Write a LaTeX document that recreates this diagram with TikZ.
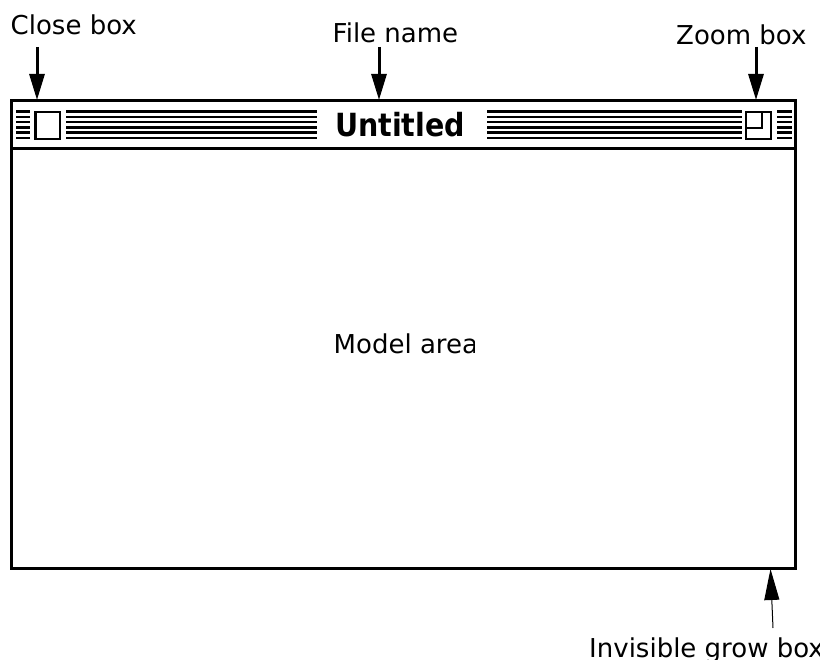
\documentclass[tikz,border=0pt]{standalone}
\usepackage{fontspec}
\setmainfont{DejaVu Sans}
\usetikzlibrary{arrows.meta}
\definecolor{macink}{HTML}{000000}

\begin{document}
\begin{tikzpicture}[
  x=1pt,
  y=-1pt,
  line join=miter,
  frame/.style={draw=macink,line width=3pt},
  stripe/.style={draw=macink,line width=2.5pt},
  ctrlbox/.style={draw=macink,line width=2.5pt,fill=white},
  callout/.style={inner sep=0pt,anchor=base west,font=\fontsize{26}{30}\selectfont},
  pointer/.style={draw=macink,line width=3pt,-{Triangle[length=26pt,width=15pt]}},
  growpointer/.style={draw=macink,line width=1pt,-{Triangle[length=31pt,width=15pt]}}
]
  \useasboundingbox (0,0) rectangle (820,660);
  \clip (0,0) rectangle (820,660);

  % Window outline and title bar separator.
  \draw[frame] (11,101) rectangle (795,568);
  \draw[frame] (11,149) -- (795,149);

  % Title bar stripes, broken around the boxes and the file name.
  \foreach \k in {0,...,5} {
    \pgfmathsetmacro{\ys}{111.5+5.3*\k}
    \draw[stripe] (16,\ys) -- (30,\ys);
    \draw[stripe] (66,\ys) -- (317,\ys);
    \draw[stripe] (487,\ys) -- (742,\ys);
    \draw[stripe] (777,\ys) -- (792,\ys);
  }

  % Close box.
  \draw[ctrlbox] (35.5,112) rectangle (60,139);

  % Zoom box with its inner square.
  \draw[ctrlbox] (746.2,112) rectangle (770.8,139);
  \draw[draw=macink,line width=2.5pt] (762,112) -- (762,128) -- (746.2,128);

  % File name in the title bar.
  \node[inner sep=0pt,anchor=base,font=\bfseries\fontsize{28.5}{30}\selectfont] (title) at (400,137)
    {\scalebox{1}[1.12]{Untitled}};

  % Text inside the window, cut off at its box.
  \begin{scope}
    \clip (300,320) rectangle (474.5,370);
    \node[callout] (model) at (333.5,354) {Model area};
  \end{scope}

  % Labels above the window.
  \node[callout] (closelbl) at (10.5,35) {Close box};
  \node[callout] (filelbl) at (332.5,43) {File name};
  \node[callout] (zoomlbl) at (676,45) {Zoom box};

  % Arrow ends.
  \coordinate (closetop) at (37,47);
  \coordinate (closetip) at (37,100);
  \coordinate (filetop) at (379,47);
  \coordinate (filetip) at (379,100);
  \coordinate (zoomtop) at (756,47);
  \coordinate (zoomtip) at (756,100);

  \draw[pointer] (closetop) -- (closetip);
  \draw[pointer] (filetop) -- (filetip);
  \draw[pointer] (zoomtop) -- (zoomtip);

  % Grow box label below the window, running past the edge.
  \node[callout] (growlbl) at (589,657) {Invisible grow box};
  \coordinate (growfoot) at (773,628);
  \coordinate (growtip) at (770.5,569);
  \draw[growpointer] (growfoot) -- (growtip);
\end{tikzpicture}
\end{document}
